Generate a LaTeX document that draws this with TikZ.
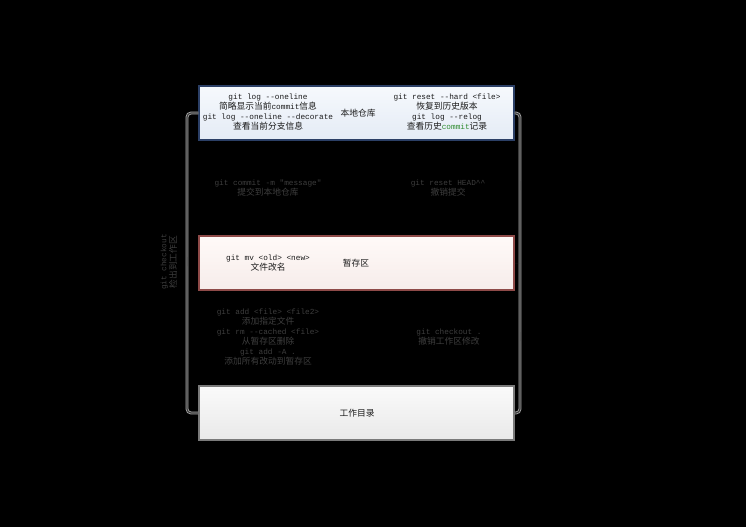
\documentclass[tikz,border=0pt]{standalone}
\usepackage{fontspec}
\setmainfont{Noto Sans CJK SC}
\newfontfamily\mono{Liberation Mono}
\usetikzlibrary{arrows.meta}
\definecolor{bgc}{HTML}{000000}
\definecolor{repoborder}{HTML}{2B3F66}
\definecolor{repotop}{HTML}{F6F9FD}
\definecolor{repobot}{HTML}{E4EBF5}
\definecolor{stageborder}{HTML}{8E4A48}
\definecolor{stagetop}{HTML}{FFFAF8}
\definecolor{stagebot}{HTML}{F6ECEA}
\definecolor{workborder}{HTML}{7A7A7A}
\definecolor{worktop}{HTML}{FAFAFA}
\definecolor{workbot}{HTML}{E9E9E9}
\definecolor{txt}{HTML}{1A1A1A}
\definecolor{dimtxt}{HTML}{3E3E3E}
\definecolor{greent}{HTML}{2E8B2E}
\definecolor{linelight}{HTML}{A8A8A8}
\definecolor{linedark}{HTML}{3A3A3A}
\newcommand{\cn}{\fontsize{8.75pt}{10pt}\selectfont}
\newcommand{\mn}[1]{{\mono\fontsize{7.75pt}{10pt}\selectfont #1}}
\tikzset{
  box/.style={rectangle, minimum width=315pt, minimum height=54pt, line width=1.2pt, inner sep=0pt},
  repobox/.style={box, draw=repoborder, top color=repotop, bottom color=repobot},
  stagebox/.style={box, draw=stageborder, top color=stagetop, bottom color=stagebot},
  workbox/.style={box, draw=workborder, top color=worktop, bottom color=workbot},
  label/.style={text=txt, align=center, inner sep=0pt, font=\cn},
  dimlabel/.style={text=dimtxt, align=center, inner sep=0pt, font=\cn},
  conn/.style={draw=linedark, line width=1.1pt, rounded corners=4pt,
     preaction={draw=linelight, line width=2.8pt}},
  tipmark/.style={draw=none, fill=linedark, -{Stealth[length=6pt,width=6pt]}, line width=0pt},
}
\begin{document}
\begin{tikzpicture}[x=1pt,y=-1pt]
\fill[bgc] (0,0) rectangle (746,527);
\useasboundingbox (0,0) rectangle (746,527);

% boxes
\node[repobox] (repo) at (356.5,113) {};
\node[stagebox] (stage) at (356.5,263) {};
\node[workbox] (work) at (356.5,413) {};

% repo texts
\node[label] (repoL) at (268,112) {\mn{git log --oneline}\\简略显示当前\mn{commit}信息\\\mn{git log --oneline --decorate}\\查看当前分支信息};
\node[label] (repoC) at (358,113) {本地仓库};
\node[label] (repoR) at (447,112) {\mn{git reset --hard <file>}\\恢复到历史版本\\\mn{git log --relog}\\查看历史{\color{greent}\mn{commit}}记录};

% stage texts
\node[label] (stageL) at (268,263) {\mn{git mv <old> <new>}\\文件改名};
\node[label] (stageC) at (356,263) {暂存区};

% work text
\node[label] (workC) at (357,413) {工作目录};

% connectors
\coordinate (LT) at (187,113);
\coordinate (RT) at (520,113);
\draw[conn] (repo.west) -- (LT) |- (work.west);
\draw[conn] (repo.east) -- (RT) |- (work.east);

% arrow marks
\coordinate (rm1a) at (520,181);
\coordinate (rm1b) at (520,190);
\coordinate (rm2a) at (520,332);
\coordinate (rm2b) at (520,341);
\coordinate (rs) at (520,263);
\coordinate (lm1a) at (187,257);
\coordinate (lm1b) at (187,266);
\coordinate (lb) at (190,413);
\coordinate (rb) at (517,413);
\draw[tipmark] (rm1a) -- (rm1b);
\draw[tipmark] (rm2a) -- (rm2b);
\draw[tipmark] (rs) -- (stage.east);
\draw[tipmark] (lm1a) -- (lm1b);
\draw[tipmark] (lb) -- (work.west);
\draw[tipmark] (rb) -- (work.east);

% dim labels between boxes
\node[dimlabel] (c1) at (268,188) {\mn{git commit -m "message"}\\提交到本地仓库};
\node[dimlabel] (c2) at (448,188) {\mn{git reset HEAD\^{}\^{}}\\撤销提交};
\node[dimlabel] (c3) at (268,337) {\mn{git add <file> <file2>}\\添加指定文件\\\mn{git rm --cached <file>}\\从暂存区删除\\\mn{git add -A .}\\添加所有改动到暂存区};
\node[dimlabel] (c4) at (449,337) {\mn{git checkout .}\\撤销工作区修改};
\node[dimlabel, rotate=90] (c5) at (169,262) {\mn{git checkout}\\检出到工作区};
\end{tikzpicture}
\end{document}
